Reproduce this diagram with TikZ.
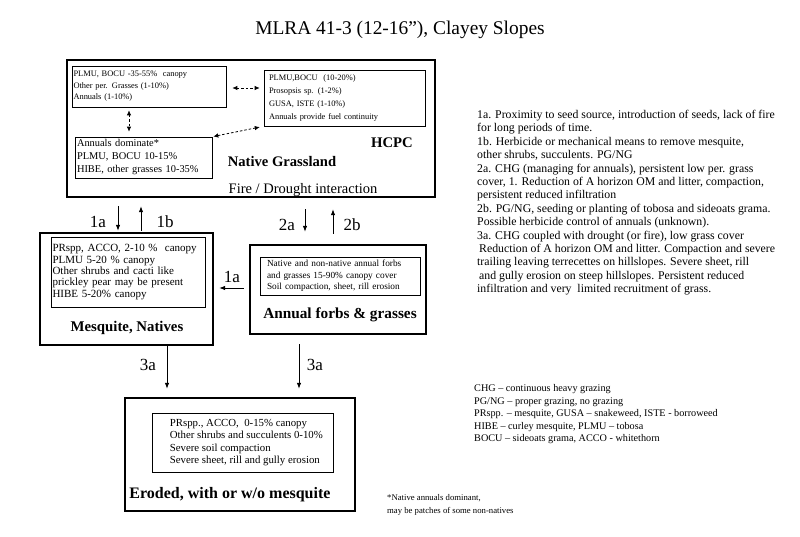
\documentclass[tikz,border=0pt]{standalone}
\usepackage{fontspec}
\setmainfont{Liberation Serif}
\usetikzlibrary{arrows.meta}
\begin{document}
\begin{tikzpicture}[x=1pt,y=-1pt,
  outbox/.style={draw, line width=2.4pt, minimum width=#1, inner sep=0pt},
  inbox/.style={draw, line width=0.6pt, align=left, inner ysep=0pt},
  lbl/.style={font=\bfseries\fontsize{#1}{17}\selectfont},
  albl/.style={font=\fontsize{17}{19}\selectfont},
  arr/.style={line width=0.8pt, -{Latex[length=6pt,width=4.5pt]}},
  darr/.style={line width=0.8pt, dash pattern=on 2.5pt off 2pt, {Latex[length=5pt,width=4.5pt]}-{Latex[length=5pt,width=4.5pt]}},
  para/.style={anchor=north west, inner sep=0pt, align=left}
]
\useasboundingbox (0,0) rectangle (800,536);
\fill[white] (0,0) rectangle (800,536);

% title
\node[font=\fontsize{19.4}{22}\selectfont] (title) at (400,30) {MLRA 41-3 (12-16''), Clayey Slopes};

% outer boxes
\node[outbox=368pt, minimum height=137pt] (hcpc) at (251,128.5) {};
\node[outbox=173pt, minimum height=112pt] (mesq) at (126.5,289) {};
\node[outbox=176pt, minimum height=89pt] (annual) at (338,289.5) {};
\node[outbox=230pt, minimum height=113pt] (eroded) at (240,454.5) {};

% inner boxes
\node[inbox, inner xsep=1.5pt, text width=151pt, minimum height=41pt, font=\fontsize{8.4}{11.5}\selectfont] (b1) at (149,86.5)
  {PLMU, BOCU -35-55\%\ \ canopy\\Other per. Grasses (1-10\%)\\Annuals (1-10\%)};
\node[inbox, inner xsep=5pt, text width=151pt, minimum height=56pt, font=\fontsize{8.4}{13}\selectfont] (b2) at (344.5,98)
  {PLMU,BOCU\ \ (10-20\%)\\Prosopsis sp. (1-2\%)\\GUSA, ISTE (1-10\%)\\Annuals provide fuel continuity};
\node[inbox, inner xsep=2pt, text width=133pt, minimum height=41pt, font=\fontsize{10.4}{13}\selectfont] (b3) at (143.5,157.5)
  {Annuals dominate*\\PLMU, BOCU 10-15\%\\HIBE, other grasses 10-35\%};
\node[inbox, inner xsep=1.5pt, text width=151pt, minimum height=70pt, font=\fontsize{11}{11.3}\selectfont] (min) at (128,272)
  {PRspp, ACCO, 2-10 \%\ \ canopy\\PLMU 5-20 \% canopy\\Other shrubs and cacti like\\prickley pear may be present\\HIBE 5-20\% canopy};
\node[inbox, inner xsep=7pt, text width=146pt, minimum height=38pt, font=\fontsize{9.3}{11.5}\selectfont] (ain) at (340,276)
  {Native and non-native annual forbs\\and grasses 15-90\% canopy cover\\Soil compaction, sheet, rill erosion};
\node[draw, line width=0.6pt, minimum width=181pt, minimum height=59pt, inner sep=0pt] (ein) at (242.5,442.5) {};
\node[para, anchor=west, font=\fontsize{10.8}{12.3}\selectfont] (eint) at ([xshift=18pt]ein.west)
  {PRspp., ACCO,\ \ 0-15\% canopy\\Other shrubs and succulents 0-10\%\\Severe soil compaction\\Severe sheet, rill and gully erosion};

% dashed arrows inside HCPC
\draw[darr, shorten <=6pt, shorten >=4pt] (b1.east |- 0,88) -- (b2.west |- 0,88);
\coordinate (dvx) at (129,0);
\draw[darr, shorten <=3pt, shorten >=5pt] (b1.south -| dvx) -- (b3.north -| dvx);
\draw[darr, shorten <=1pt, shorten >=4pt] (b3.north east) -- (b2.south west);

% labels
\node[lbl=14.7] (hcpclbl) at (392,143) {HCPC};
\node[lbl=14.6] (nglbl) at (282,162) {Native Grassland};
\node[font=\fontsize{14.5}{17}\selectfont] (fire) at (303,190) {Fire / Drought interaction};
\node[lbl=14.8] (mlbl) at (127,328) {Mesquite, Natives};
\node[lbl=15.3] (albl2) at (340,315) {Annual forbs \& grasses};
\node[lbl=16] (elbl) at (230,495) {Eroded, with or w/o mesquite};

% transition arrows
\coordinate (x1a) at (118,0);
\coordinate (x1b) at (141,0);
\coordinate (x2a) at (305,0);
\coordinate (x2b) at (333,0);
\coordinate (y1a) at (0,288);
\coordinate (x3a) at (167,0);
\coordinate (x3b) at (299,0);
\draw[arr, shorten <=8pt, shorten >=1pt] (hcpc.south -| x1a) -- (mesq.north -| x1a);
\draw[arr, shorten <=1pt, shorten >=8pt] (mesq.north -| x1b) -- (hcpc.south -| x1b);
\draw[arr, shorten <=11pt, shorten >=12pt] (hcpc.south -| x2a) -- (annual.north -| x2a);
\draw[arr, shorten <=10pt, shorten >=11pt] (annual.north -| x2b) -- (hcpc.south -| x2b);
\draw[arr, shorten <=5pt, shorten >=5pt] (annual.west |- y1a) -- (mesq.east |- y1a);
\draw[arr, shorten <=0pt, shorten >=8pt] (mesq.south -| x3a) -- (eroded.north -| x3a);
\draw[arr, shorten <=9pt, shorten >=8pt] (annual.south -| x3b) -- (eroded.north -| x3b);

\node[albl] (l1a) at (98,222) {1a};
\node[albl] (l1b) at (165,222) {1b};
\node[albl] (l2a) at (287,225) {2a};
\node[albl] (l2b) at (352,225) {2b};
\node[albl] (l1a2) at (232,277) {1a};
\node[albl] (l3a) at (148,365) {3a};
\node[albl] (l3b) at (315,365) {3a};

% right-hand text
\node[para, font=\fontsize{11.8}{13.4}\selectfont] (notes) at (477,110)
 {1a. Proximity to seed source, introduction of seeds, lack of fire\\
  for long periods of time.\\
  1b. Herbicide or mechanical means to remove mesquite,\\
  other shrubs, succulents. PG/NG\\
  2a. CHG (managing for annuals), persistent low per. grass\\
  cover, 1. Reduction of A horizon OM and litter, compaction,\\
  persistent reduced infiltration\\
  2b. PG/NG, seeding or planting of tobosa and sideoats grama.\\
  Possible herbicide control of annuals (unknown).\\
  3a. CHG coupled with drought (or fire), low grass cover\\
  \hspace*{2pt}Reduction of A horizon OM and litter. Compaction and severe\\
  trailing leaving terrecettes on hillslopes. Severe sheet, rill\\
  \hspace*{2pt}and gully erosion on steep hillslopes. Persistent reduced\\
  infiltration and very\ \ limited recruitment of grass.};

\node[para, font=\fontsize{10.2}{12.5}\selectfont] (legend) at (474,384.5)
 {CHG -- continuous heavy grazing\\
  PG/NG -- proper grazing, no grazing\\
  PRspp. -- mesquite, GUSA -- snakeweed, ISTE - borroweed\\
  HIBE -- curley mesquite, PLMU -- tobosa\\
  BOCU -- sideoats grama, ACCO - whitethorn};

\node[para, font=\fontsize{8.7}{13}\selectfont] (foot) at (387,494)
 {*Native annuals dominant,\\may be patches of some non-natives};
\end{tikzpicture}
\end{document}
